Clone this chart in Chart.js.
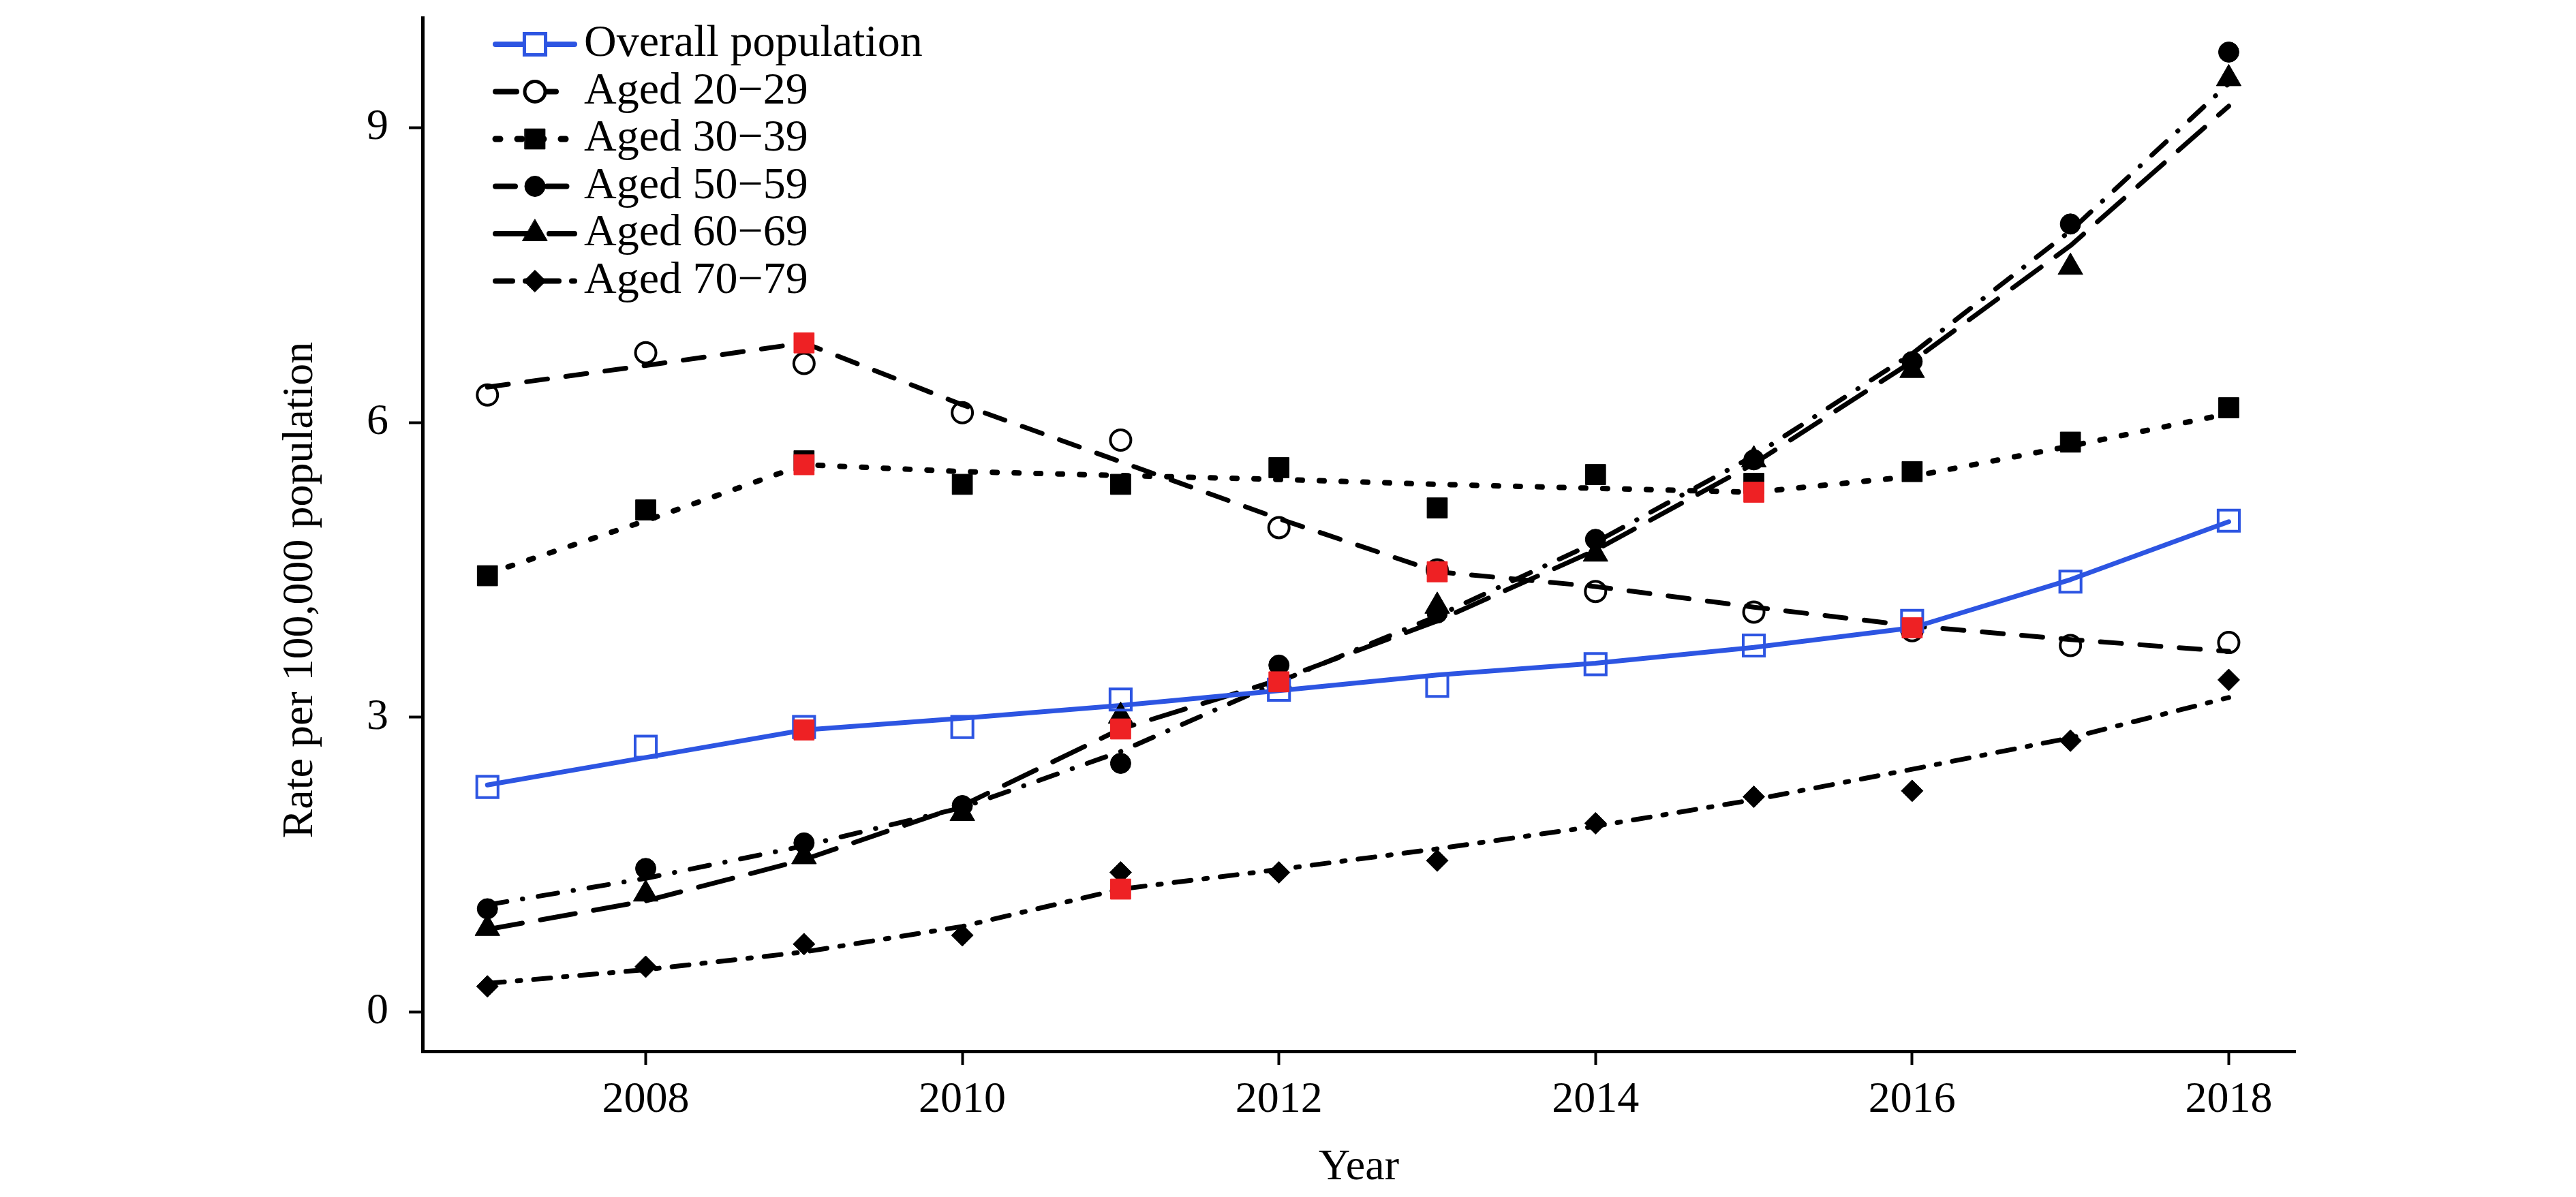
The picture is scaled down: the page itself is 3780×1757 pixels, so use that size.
<!DOCTYPE html>
<html>
<head>
<meta charset="utf-8">
<title>Rate per 100,000 population, 2007-2018</title>
<script src="https://cdn.jsdelivr.net/npm/chart.js@4.4.1/dist/chart.umd.min.js"></script>
<style>
  html, body { margin: 0; padding: 0; background: #fff; }
  #wrap { width: 3780px; height: 1757px; }
</style>
</head>
<body>
<div id="wrap"><canvas id="trendGraph" width="3780" height="1757"></canvas></div>
<script>
// Values
const years = [2007, 2008, 2009, 2010, 2011, 2012, 2013, 2014, 2015, 2016, 2017, 2018];
const xTicks = [2008, 2010, 2012, 2014, 2016, 2018];
const yTicks = [0, 3, 6, 9];
const seriesLabels = ['Overall population', 'Aged 20\u221229', 'Aged 30\u221239',
                      'Aged 50\u221259', 'Aged 60\u221269', 'Aged 70\u221279'];

// observed rates (markers)
const overallObs = [2.29, 2.70, 2.90, 2.90, 3.18, 3.28, 3.32, 3.54, 3.73, 3.98, 4.38, 5.00];
const aged2029Obs = [6.28, 6.71, 6.60, 6.10, 5.82, 4.93, 4.50, 4.28, 4.07, 3.88, 3.73, 3.76];
const aged3039Obs = [4.44, 5.11, 5.61, 5.37, 5.37, 5.54, 5.13, 5.47, 5.38, 5.50, 5.80, 6.15];
const aged5059Obs = [1.05, 1.46, 1.72, 2.10, 2.53, 3.53, 4.06, 4.81, 5.62, 6.62, 8.02, 9.77];
const aged6069Obs = [0.85, 1.20, 1.58, 2.02, 3.01, 3.38, 4.13, 4.66, 5.62, 6.53, 7.58, 9.50];
const aged7079Obs = [0.26, 0.46, 0.69, 0.78, 1.42, 1.42, 1.54, 1.92, 2.19, 2.25, 2.76, 3.38];

// fitted joinpoint trends (lines)
const overallFit = [2.31, 2.59, 2.87, 2.99, 3.12, 3.27, 3.43, 3.55, 3.71, 3.91, 4.40, 4.99];
const aged2029Fit = [6.36, 6.58, 6.81, 6.18, 5.60, 5.02, 4.48, 4.33, 4.12, 3.93, 3.79, 3.67];
const aged3039Fit = [4.46, 5.00, 5.57, 5.50, 5.46, 5.42, 5.37, 5.33, 5.29, 5.45, 5.76, 6.09];
const aged5059Fit = [1.09, 1.36, 1.69, 2.08, 2.65, 3.36, 4.03, 4.78, 5.66, 6.70, 7.95, 9.45];
const aged6069Fit = [0.84, 1.13, 1.55, 2.10, 2.88, 3.38, 3.98, 4.70, 5.58, 6.62, 7.80, 9.22];
const aged7079Fit = [0.29, 0.43, 0.61, 0.87, 1.25, 1.45, 1.66, 1.89, 2.16, 2.47, 2.79, 3.20];

// joinpoint years (red squares)
const overallJoins = [2009, 2016];
const aged2029Joins = [2009, 2013];
const aged3039Joins = [2009, 2015];
const aged5059Joins = [2012];
const aged6069Joins = [2011];
const aged7079Joins = [2011];

const obsSets = [overallObs, aged2029Obs, aged3039Obs, aged5059Obs, aged6069Obs, aged7079Obs];
const fitSets = [overallFit, aged2029Fit, aged3039Fit, aged5059Fit, aged6069Fit, aged7079Fit];
const joinSets = [overallJoins, aged2029Joins, aged3039Joins, aged5059Joins, aged6069Joins, aged7079Joins];

// look of each series
const BLUE = '#2d55e2';
const RED = '#ee2124';
const styles = [
    { color: BLUE,   width: 7, dash: [],                point: 'rect',     radius: 22, filled: false },
    { color: '#000', width: 7, dash: [31, 27],          point: 'circle',   radius: 15, filled: false },
    { color: '#000', width: 8, dash: [7, 25],           point: 'rect',     radius: 21, filled: true },
    { color: '#000', width: 7, dash: [29, 23, 0.5, 23], point: 'circle',   radius: 15, filled: true },
    { color: '#000', width: 7, dash: [52, 27],          point: 'triangle', radius: 21, filled: true },
    { color: '#000', width: 7, dash: [25, 19, 5, 19],   point: 'rectRot',  radius: 16, filled: true }
];

const SERIF = '"Liberation Serif", "Times New Roman", serif';
Chart.defaults.font.family = SERIF;
Chart.defaults.color = '#000';

const toPoints = arr => years.map((yr, i) => ({ x: yr, y: arr[i] }));

// 1. red joinpoint squares on top
const joinData = joinSets.flatMap((yrs, k) =>
    yrs.map(yr => ({ x: yr, y: fitSets[k][years.indexOf(yr)] })));

const datasets = [{
    label: 'Joinpoints',
    data: joinData,
    showLine: false,
    pointStyle: 'rect',
    pointRadius: 21,
    pointBackgroundColor: RED,
    pointBorderColor: RED,
    pointBorderWidth: 1,
    order: 0
}];

// 2. observed markers
obsSets.forEach((arr, k) => {
    const s = styles[k];
    datasets.push({
        label: seriesLabels[k],
        data: toPoints(arr),
        showLine: false,
        pointStyle: s.point,
        pointRadius: s.radius,
        pointBackgroundColor: s.filled ? s.color : 'rgba(0,0,0,0)',
        pointBorderColor: s.color,
        pointBorderWidth: s.filled ? 1 : 4,
        order: 10 + k
    });
});

// 3. fitted trend lines
fitSets.forEach((arr, k) => {
    const s = styles[k];
    datasets.push({
        label: seriesLabels[k] + ' (fitted)',
        data: toPoints(arr),
        borderColor: s.color,
        borderWidth: s.width,
        borderDash: s.dash,
        borderCapStyle: 'round',
        borderJoinStyle: 'round',
        pointRadius: 0,
        tension: 0,
        fill: false,
        order: 20 + k
    });
});

// legend block and rotated y title drawn on the canvas
const legendBox = { x0: 727, x1: 843, textX: 857, top: 65, step: 69.5 };
const overlay = {
    id: 'overlay',
    afterDraw(chart) {
        const ctx = chart.ctx;
        ctx.save();
        seriesLabels.forEach((label, k) => {
            const s = styles[k];
            const y = legendBox.top + k * legendBox.step;
            ctx.strokeStyle = s.color;
            ctx.lineWidth = s.width + 1;
            ctx.lineCap = 'round';
            ctx.setLineDash(s.dash);
            ctx.beginPath();
            ctx.moveTo(legendBox.x0, y);
            ctx.lineTo(legendBox.x1, y);
            ctx.stroke();
            ctx.setLineDash([]);
            ctx.fillStyle = s.filled ? s.color : '#fff';
            ctx.lineWidth = s.filled ? 1 : 5;
            Chart.helpers.drawPoint(ctx, { pointStyle: s.point, radius: s.radius, borderWidth: ctx.lineWidth },
                (legendBox.x0 + legendBox.x1) / 2, y);
            ctx.fillStyle = '#000';
            ctx.font = '66px ' + SERIF;
            ctx.textAlign = 'left';
            ctx.textBaseline = 'middle';
            ctx.fillText(label, legendBox.textX, y);
        });
        ctx.translate(441, 866);
        ctx.rotate(-Math.PI / 2);
        ctx.font = '64px ' + SERIF;
        ctx.textAlign = 'center';
        ctx.textBaseline = 'middle';
        ctx.fillStyle = '#000';
        ctx.fillText('Rate per 100,000 population', 0, 0);
        ctx.restore();
    }
};

new Chart(document.getElementById('trendGraph'), {
    type: 'line',
    data: { datasets: datasets },
    options: {
        responsive: false,
        animation: false,
        devicePixelRatio: 1,
        events: [],
        layout: { padding: { left: 0, right: 412, top: 0, bottom: 0 } },
        plugins: {
            legend: { display: false },
            tooltip: { enabled: false }
        },
        scales: {
            x: {
                type: 'linear',
                min: 2006.59,
                max: 2018.42,
                afterBuildTicks: scale => { scale.ticks = xTicks.map(v => ({ value: v })); },
                afterFit: scale => { scale.height = 214; scale.paddingLeft = 0; scale.paddingRight = 0; },
                ticks: { font: { size: 64 }, padding: 14, callback: v => String(v) },
                grid: { drawOnChartArea: false, tickLength: 20, tickWidth: 4, tickColor: '#000' },
                border: { display: true, color: '#000', width: 5 },
                title: { display: true, text: 'Year', font: { size: 64 }, padding: { top: 0, bottom: 4 } }
            },
            y: {
                type: 'linear',
                min: -0.40,
                max: 10.12,
                afterBuildTicks: scale => { scale.ticks = yTicks.map(v => ({ value: v })); },
                afterFit: scale => { scale.width = 620; scale.paddingTop = 0; scale.paddingBottom = 0; },
                ticks: { font: { size: 64 }, padding: 30 },
                grid: { drawOnChartArea: false, tickLength: 20, tickWidth: 4, tickColor: '#000' },
                border: { display: true, color: '#000', width: 5 }
            }
        }
    },
    plugins: [overlay]
});
</script>
</body>
</html>
